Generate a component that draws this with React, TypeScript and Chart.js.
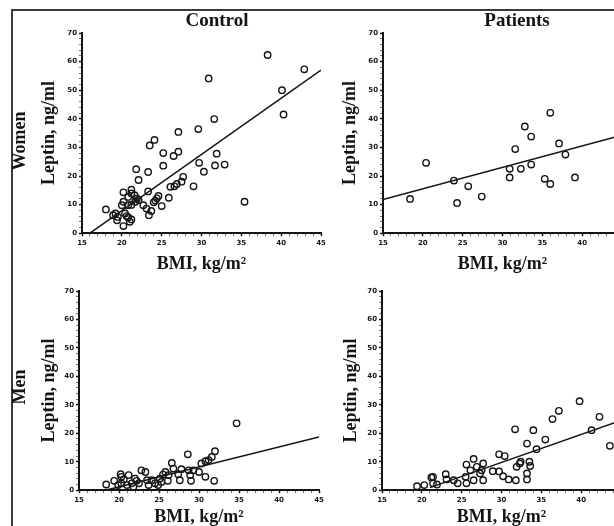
import React, { useEffect, useRef } from 'react';
import { Chart, registerables } from 'chart.js';

Chart.register(...registerables);

// ---------- DATA ----------
const xTicksMajor = [15, 20, 25, 30, 35, 40, 45];
const yTicksMajor = [0, 10, 20, 30, 40, 50, 60, 70];

const womenControlBMI = [
  38.3, 42.9, 30.9, 40.1, 40.3, 31.6, 27.1, 29.6, 24.1, 23.5, 25.2, 27.1, 26.5, 31.9, 29.7, 32.9,
  31.7, 25.2, 30.3, 21.8, 23.3, 22.1, 27.7, 27.5, 26.9, 29.0, 26.1, 26.6, 35.4, 25.9, 23.3, 20.2,
  21.2, 21.2, 20.8, 21.6, 21.9, 22.1, 21.7, 20.8, 21.2, 20.2, 20.0, 24.6, 24.4, 24.2, 24.0, 25.0,
  22.7, 23.1, 23.7, 23.4, 18.0, 18.9, 19.2, 19.5, 19.4, 20.4, 20.6, 21.2, 21.0, 20.8, 20.2,
];
const womenControlLeptin = [
  62.3, 57.3, 54.1, 50.0, 41.5, 39.9, 35.4, 36.4, 32.6, 30.7, 28.0, 28.5, 27.0, 27.8, 24.6, 24.0,
  23.7, 23.6, 21.5, 22.4, 21.4, 18.6, 19.7, 18.0, 17.2, 16.4, 16.2, 16.4, 11.0, 12.4, 14.6, 14.3,
  15.2, 13.9, 12.7, 13.3, 12.1, 11.6, 11.0, 9.8, 9.9, 11.0, 9.8, 13.0, 12.2, 11.4, 10.8, 9.5,
  9.8, 8.6, 7.8, 6.3, 8.3, 6.3, 6.9, 5.7, 4.5, 6.9, 6.0, 4.8, 4.0, 5.5, 2.5,
];
const womenControlFitBMI = [16, 45];
const womenControlFitLeptin = [0, 57];

const womenPatientsBMI = [
  18.4, 20.4, 23.9, 24.3, 25.7, 27.4, 30.9, 30.9, 31.6, 32.3, 32.8, 33.6, 33.6, 35.3, 36.0, 36.0,
  37.1, 37.9, 39.1,
];
const womenPatientsLeptin = [
  12.0, 24.6, 18.4, 10.6, 16.4, 12.8, 22.5, 19.5, 29.4, 22.5, 37.3, 33.8, 24.0, 19.0, 42.1, 17.2,
  31.4, 27.5, 19.5,
];
const womenPatientsFitBMI = [15, 45];
const womenPatientsFitLeptin = [11.8, 34.3];

const menControlBMI = [
  18.4, 19.4, 19.9, 20.2, 20.3, 20.6, 21.2, 21.0, 21.6, 21.8, 22.0, 22.2, 22.5, 22.8, 23.3, 23.5,
  23.7, 24.1, 24.5, 24.9, 25.1, 25.3, 25.5, 25.8, 26.2, 26.1, 26.6, 26.8, 27.4, 27.6, 27.8, 28.6,
  28.7, 28.9, 29.0, 29.3, 30.0, 30.3, 30.8, 30.8, 31.2, 31.6, 32.0, 31.9, 34.7, 20.3,
];
const menControlLeptin = [
  2.0, 3.3, 1.8, 5.6, 4.7, 3.8, 5.3, 1.8, 2.4, 1.2, 4.1, 3.3, 2.4, 7.0, 6.4, 3.5,
  1.8, 3.5, 2.4, 1.8, 4.1, 2.9, 5.5, 6.4, 5.3, 3.3, 9.6, 7.6, 5.6, 3.5, 7.4, 12.6,
  7.0, 5.3, 3.3, 7.0, 6.4, 9.4, 4.7, 10.2, 10.6, 11.7, 13.7, 3.3, 23.5, 2.4,
];
const menControlFitBMI = [18.3, 45];
const menControlFitLeptin = [0, 18.7];

const menPatientsBMI = [
  19.4, 20.3, 21.2, 21.4, 21.4, 21.9, 23.0, 23.1, 24.0, 24.5, 25.5, 25.6, 25.6, 26.1, 26.5, 26.5,
  26.9, 27.3, 27.7, 27.7, 27.5, 28.9, 29.7, 29.7, 30.4, 30.2, 30.9, 31.7, 31.8, 31.9, 32.3, 32.4,
  33.2, 33.2, 33.2, 33.5, 33.6, 34.0, 34.4, 35.5, 36.4, 37.2, 39.8, 41.3, 42.3, 43.6,
];
const menPatientsLeptin = [
  1.4, 1.8, 4.5, 4.7, 2.4, 2.0, 5.6, 3.8, 3.5, 2.4, 4.7, 9.0, 2.4, 7.0, 11.0, 3.5,
  8.2, 5.9, 9.4, 3.5, 7.0, 6.7, 12.6, 6.6, 12.0, 4.9, 3.8, 21.4, 3.5, 8.2, 9.4, 10.0,
  16.4, 5.9, 3.8, 10.0, 8.5, 21.1, 14.4, 17.8, 25.0, 27.9, 31.3, 21.1, 25.8, 15.6,
];
const menPatientsFitBMI = [21, 45];
const menPatientsFitLeptin = [0.9, 24.5];

// ---------- LAYOUT / STYLE ----------
const Y_AXIS_W = 82;
const PAD_TOP = 33;
const PAD_RIGHT = 14;
const TITLE_SIZE = 18;
const TITLE_LH = TITLE_SIZE * 1.2;
const SERIF = '"Liberation Serif", "Times New Roman", serif';
const INK = '#141414';

type Panel = {
  key: string;
  bmi: number[];
  lep: number[];
  fitX: number[];
  fitY: number[];
  chartLeft: number;
  chartTop: number;
  chartW: number;
  chartH: number;
  yTitleX: number;
  xTitleY: number;
};

const panels: Panel[] = [
  { key: 'wc', bmi: womenControlBMI, lep: womenControlLeptin, fitX: womenControlFitBMI, fitY: womenControlFitLeptin,
    chartLeft: 82, chartTop: 33, chartW: 239, chartH: 200, yTitleX: 49, xTitleY: 264 },
  { key: 'wp', bmi: womenPatientsBMI, lep: womenPatientsLeptin, fitX: womenPatientsFitBMI, fitY: womenPatientsFitLeptin,
    chartLeft: 383, chartTop: 33, chartW: 239, chartH: 200, yTitleX: 350, xTitleY: 264 },
  { key: 'mc', bmi: menControlBMI, lep: menControlLeptin, fitX: menControlFitBMI, fitY: menControlFitLeptin,
    chartLeft: 79, chartTop: 291, chartW: 240, chartH: 199, yTitleX: 49, xTitleY: 517 },
  { key: 'mp', bmi: menPatientsBMI, lep: menPatientsLeptin, fitX: menPatientsFitBMI, fitY: menPatientsFitLeptin,
    chartLeft: 382, chartTop: 291, chartW: 239, chartH: 199, yTitleX: 351, xTitleY: 517 },
];

function PanelChart({ p }: { p: Panel }) {
  const ref = useRef<HTMLCanvasElement | null>(null);
  const canvasLeft = p.chartLeft - Y_AXIS_W;
  const canvasTop = p.chartTop - PAD_TOP;
  const chartBottomRel = PAD_TOP + p.chartH;
  const xH = p.xTitleY - canvasTop + TITLE_LH / 2 - chartBottomRel;
  const width = Y_AXIS_W + p.chartW + PAD_RIGHT;
  const height = Math.ceil(chartBottomRel + xH);

  useEffect(() => {
    if (!ref.current) return;
    const points = p.bmi.map((x, i) => ({ x, y: p.lep[i] }));
    const fit = p.fitX.map((x, i) => ({ x, y: p.fitY[i] }));
    const tickFont = { family: '"DejaVu Sans", sans-serif', size: 7, weight: 'bold' as const };
    const titleFont = { family: SERIF, size: TITLE_SIZE, weight: 'bold' as const, lineHeight: 1.2 };
    const chart = new Chart(ref.current, {
      type: 'scatter',
      data: {
        datasets: [
          {
            data: points,
            pointStyle: 'circle',
            pointRadius: 3.2,
            pointBorderWidth: 1.4,
            borderColor: INK,
            backgroundColor: 'rgba(0,0,0,0)',
            pointBackgroundColor: 'rgba(0,0,0,0)',
            pointBorderColor: INK,
            clip: false,
          },
          {
            data: fit,
            showLine: true,
            pointRadius: 0,
            borderColor: INK,
            borderWidth: 1.5,
            backgroundColor: 'rgba(0,0,0,0)',
          },
        ],
      },
      options: {
        responsive: false,
        animation: false,
        devicePixelRatio: 1,
        layout: { padding: { top: PAD_TOP, right: PAD_RIGHT, left: 0, bottom: 0 } },
        plugins: { legend: { display: false }, tooltip: { enabled: false } },
        scales: {
          x: {
            type: 'linear',
            min: 15,
            max: 45,
            afterFit: (s: any) => { s.height = xH; },
            border: { display: true, color: INK, width: 2 },
            grid: {
              drawOnChartArea: false,
              drawTicks: true,
              tickLength: 3,
              tickColor: (c: any) => (c.tick && c.tick.value % 5 === 0 ? INK : '#777'),
              tickWidth: (c: any) => (c.tick && c.tick.value % 5 === 0 ? 1.5 : 1),
            },
            ticks: {
              stepSize: 1,
              autoSkip: false,
              maxRotation: 0,
              padding: 3,
              color: INK,
              font: tickFont,
              callback: (v: any) => (xTicksMajor.includes(Number(v)) ? String(v) : ''),
            },
            title: {
              display: true,
              text: 'BMI, kg/m²',
              color: INK,
              font: titleFont,
              padding: { top: 0, bottom: 0 },
            },
          },
          y: {
            type: 'linear',
            min: 0,
            max: 70,
            afterFit: (s: any) => { s.width = Y_AXIS_W; },
            border: { display: true, color: INK, width: 2 },
            grid: {
              drawOnChartArea: false,
              drawTicks: true,
              tickLength: 3,
              tickColor: (c: any) => (c.tick && c.tick.value % 10 === 0 ? INK : '#777'),
              tickWidth: (c: any) => (c.tick && c.tick.value % 10 === 0 ? 1.5 : 1),
            },
            ticks: {
              stepSize: 2,
              autoSkip: false,
              padding: 2,
              color: INK,
              font: tickFont,
              callback: (v: any) => (yTicksMajor.includes(Number(v)) ? String(v) : ''),
            },
            title: {
              display: true,
              text: 'Leptin, ng/ml',
              color: INK,
              font: titleFont,
              padding: { top: p.yTitleX - canvasLeft - TITLE_LH / 2, bottom: 0 },
            },
          },
        },
      },
    });
    return () => chart.destroy();
  }, []);

  return (
    <canvas
      ref={ref}
      width={width}
      height={height}
      style={{ position: 'absolute', left: canvasLeft, top: canvasTop, width, height }}
    />
  );
}

const labelStyle: React.CSSProperties = {
  position: 'absolute',
  fontFamily: SERIF,
  fontWeight: 'bold',
  color: INK,
  whiteSpace: 'nowrap',
  lineHeight: 1,
};

export default function App() {
  return (
    <div
      style={{
        position: 'fixed',
        left: 0,
        top: 0,
        width: 614,
        height: 526,
        overflow: 'hidden',
        background: '#fff',
      }}
    >
      <div
        style={{
          position: 'absolute',
          left: 11,
          top: 9,
          width: 800,
          height: 800,
          borderLeft: '2px solid #3a3a3a',
          borderTop: '2px solid #3a3a3a',
        }}
      />
      {panels.map((p) => (
        <PanelChart key={p.key} p={p} />
      ))}
      <div style={{ ...labelStyle, fontSize: 19, left: 217, top: 19, transform: 'translate(-50%, -50%)' }}>Control</div>
      <div style={{ ...labelStyle, fontSize: 19, left: 517, top: 19, transform: 'translate(-50%, -50%)' }}>Patients</div>
      <div style={{ ...labelStyle, fontSize: 18, left: 19, top: 141, transform: 'translate(-50%, -50%) rotate(-90deg)' }}>Women</div>
      <div style={{ ...labelStyle, fontSize: 18, left: 19, top: 387, transform: 'translate(-50%, -50%) rotate(-90deg)' }}>Men</div>
    </div>
  );
}
